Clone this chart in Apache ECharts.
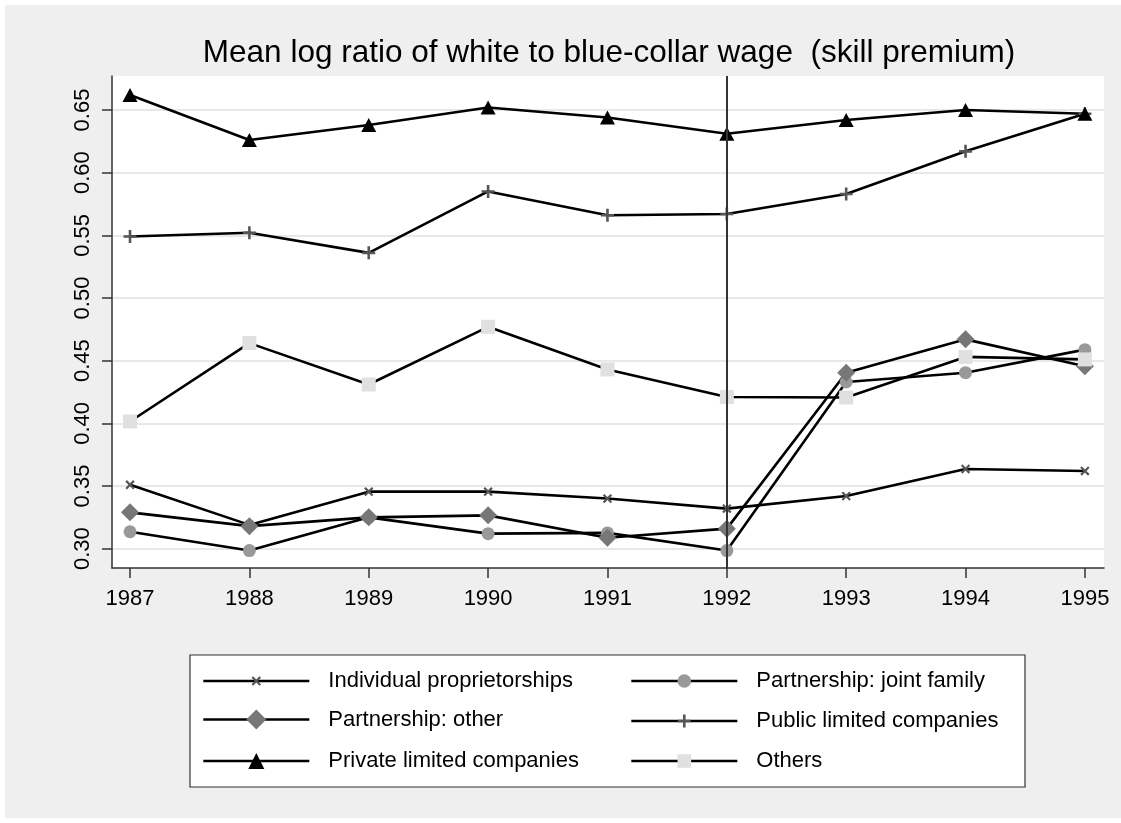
<!DOCTYPE html>
<html>
<head>
<meta charset="utf-8">
<script src="https://cdn.jsdelivr.net/npm/echarts@6/dist/echarts.min.js"></script>
<style>
  html, body { margin: 0; padding: 0; background: #fff; }
  #chart { width: 1121px; height: 823px; }
</style>
</head>
<body>
<div id="chart"></div>
<script>
// data
var years = [1987, 1988, 1989, 1990, 1991, 1992, 1993, 1994, 1995];
var yTicks = [0.30, 0.35, 0.40, 0.45, 0.50, 0.55, 0.60, 0.65];
var individual = [0.351, 0.319, 0.3455, 0.3455, 0.340, 0.332, 0.342, 0.3636, 0.362];
var jointFamily = [0.3135, 0.2985, 0.325, 0.312, 0.3126, 0.2985, 0.433, 0.4404, 0.4588];
var partnerOther = [0.329, 0.318, 0.325, 0.3266, 0.3087, 0.316, 0.4404, 0.467, 0.4455];
var publicLtd = [0.549, 0.552, 0.536, 0.585, 0.566, 0.567, 0.583, 0.617, 0.647];
var privateLtd = [0.662, 0.626, 0.638, 0.652, 0.644, 0.631, 0.642, 0.650, 0.647];
var others = [0.4015, 0.464, 0.431, 0.477, 0.443, 0.421, 0.4206, 0.453, 0.451];
var breakYear = 1992;

var FONT = "'Liberation Sans', Arial, sans-serif";
var plusPath = 'path://M4,0H6V4H10V6H6V10H4V6H0V4H4Z';

function pairs(vals) {
  return years.map(function (y, i) { return [y, vals[i]]; });
}

function mkSeries(name, vals, symbol, size, color, rotate) {
  return {
    name: name,
    type: 'line',
    data: pairs(vals),
    symbol: symbol,
    symbolSize: size,
    symbolRotate: rotate || 0,
    showAllSymbol: true,
    lineStyle: { color: '#000', width: 2.6 },
    itemStyle: { color: color, opacity: 1 },
    emphasis: { disabled: true }
  };
}

// one legend per entry so each keeps its own marker size
function mkLegend(name, left, cy, ih) {
  return {
    data: [name],
    left: left,
    top: cy - Math.max(ih, 22) / 2,
    padding: 0,
    itemWidth: 106,
    itemHeight: ih,
    selectedMode: false,
    lineStyle: { width: 2.6, color: '#000' },
    textStyle: { fontSize: 22, lineHeight: 22, color: '#000', fontFamily: FONT, padding: [0, 0, 0, 14] }
  };
}

var chart = echarts.init(document.getElementById('chart'));

var series = [
  mkSeries('Individual proprietorships', individual, plusPath, 11, '#555', 45),
  mkSeries('Partnership: joint family', jointFamily, 'circle', 13, '#999'),
  mkSeries('Partnership: other', partnerOther, 'diamond', 18, '#777'),
  mkSeries('Public limited companies', publicLtd, plusPath, 13, '#555'),
  mkSeries('Private limited companies', privateLtd, 'triangle', [15, 14], '#000'),
  mkSeries('Others', others, 'rect', 14, '#e0e0e0')
];
series[0].markLine = {
  silent: true,
  symbol: 'none',
  label: { show: false },
  lineStyle: { color: '#333', width: 2, type: 'solid' },
  data: [{ xAxis: breakYear }]
};

var option = {
  animation: false,
  backgroundColor: '#fff',
  graphic: [
    { type: 'rect', z: -10, shape: { x: 5, y: 5, width: 1116, height: 813 }, style: { fill: '#efefef' } },
    { type: 'rect', z: 1, shape: { x: 190, y: 655, width: 835, height: 132 }, style: { fill: '#fff', stroke: '#333', lineWidth: 1.2 } }
  ],
  title: {
    text: 'Mean log ratio of white to blue-collar wage  (skill premium)',
    left: 604,
    textAlign: 'center',
    top: 32,
    textStyle: { fontSize: 31.5, fontWeight: 'normal', color: '#000', fontFamily: FONT }
  },
  legend: [
    mkLegend('Individual proprietorships', 202, 681, 14),
    mkLegend('Partnership: other', 202, 721, 25),
    mkLegend('Private limited companies', 202, 761, 20),
    mkLegend('Partnership: joint family', 630, 681, 17),
    mkLegend('Public limited companies', 630, 721, 16),
    mkLegend('Others', 630, 761, 17)
  ],
  grid: {
    left: 112, top: 76, right: 17, bottom: 255,
    show: true, backgroundColor: '#fff', borderWidth: 0
  },
  xAxis: {
    type: 'value',
    min: 1986.849,
    max: 1995.16,
    axisLine: { show: true, lineStyle: { color: '#333', width: 1.5 } },
    axisTick: { show: true, length: 10, lineStyle: { color: '#333', width: 1.5 }, customValues: years },
    axisLabel: { customValues: years, fontSize: 22, color: '#000', fontFamily: FONT, margin: 20,
      formatter: function (v) { return String(v); } },
    splitLine: { show: false }
  },
  yAxis: {
    type: 'value',
    min: 0.2846,
    max: 0.6771,
    axisLine: { show: true, lineStyle: { color: '#333', width: 1.5 } },
    axisTick: { show: true, length: 10, lineStyle: { color: '#333', width: 1.5 }, customValues: yTicks },
    axisLabel: { customValues: yTicks, rotate: 90, fontSize: 22, color: '#000', fontFamily: FONT, margin: 18,
      formatter: function (v) { return v.toFixed(2); } },
    splitLine: { show: true, lineStyle: { color: '#e8e8e8', width: 2 } }
  },
  series: series
};

chart.setOption(option);
</script>
</body>
</html>
